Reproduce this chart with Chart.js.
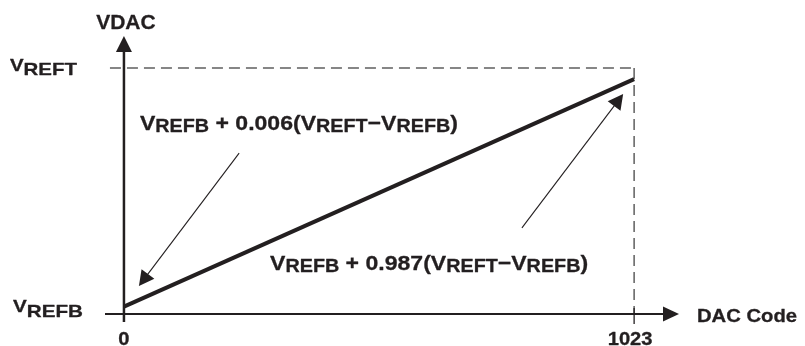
<!DOCTYPE html>
<html>
<head>
<meta charset="utf-8">
<script src="https://cdn.jsdelivr.net/npm/chart.js@4/dist/chart.umd.min.js"></script>
<style>
  html, body { margin: 0; padding: 0; background: #ffffff; }
  #wrap { width: 805px; height: 346px; }
</style>
</head>
<body>
<div id="wrap"><canvas id="c" width="805" height="346"></canvas></div>
<script>
// ---- data ----
const dacCodes = [0, 1023];                 // x: DAC code
const vdacFraction = [0.03, 0.955];         // y: fraction of (VREFT - VREFB) above VREFB
const xTickValues = [0, 1023];
const xTickLabels = ['0', '1023'];
const yTickValues = [0, 1];
const yTickLabels = [['V', 'REFB'], ['V', 'REFT']];
const xAxisTitle = 'DAC Code';
const yAxisTitle = 'VDAC';
// callout labels: [text, isSubscript]
const calloutLow = [['V',0],['REFB',1],[' + 0.006(',0],['V',0],['REFT',1],['\u2212',0],['V',0],['REFB',1],[')',0]];
const calloutHigh = [['V',0],['REFB',1],[' + 0.987(',0],['V',0],['REFT',1],['\u2212',0],['V',0],['REFB',1],[')',0]];
// callout anchors in data units: text position, arrow start, arrow tip
const calloutLowText = [32, 0.748];
const calloutLowArrow = [[231, 0.654], [30, 0.114]];
const calloutHighText = [293, 0.179];
const calloutHighArrow = [[798, 0.35], [1001, 0.894]];

const INK = '#231f20';
const FONT = '"Liberation Sans", Arial, Helvetica, sans-serif';
const TEXT_STROKE = 0.3;

function fillBold(ctx, t, x, y) {
  ctx.fillText(t, x, y);
  ctx.lineWidth = TEXT_STROKE;
  ctx.strokeStyle = INK;
  ctx.lineJoin = 'round';
  ctx.strokeText(t, x, y);
}

function drawRich(ctx, parts, x, y, opts) {
  const main = opts.main, sub = opts.sub, dy = opts.dy;
  let natural = 0;
  const widths = parts.map(p => {
    ctx.font = 'bold ' + (p[1] ? sub : main) + 'px ' + FONT;
    const w = ctx.measureText(p[0]).width;
    natural += w;
    return w;
  });
  const sx = opts.width ? opts.width / natural : 1;
  ctx.save();
  ctx.translate(x, y);
  ctx.scale(sx, 1);
  let cx = opts.align === 'center' ? -natural / 2 : (opts.align === 'right' ? -natural : 0);
  ctx.fillStyle = INK;
  ctx.textBaseline = 'alphabetic';
  ctx.textAlign = 'left';
  parts.forEach((p, i) => {
    ctx.font = 'bold ' + (p[1] ? sub : main) + 'px ' + FONT;
    fillBold(ctx, p[0], cx, p[1] ? dy : 0);
    cx += widths[i];
  });
  ctx.restore();
}

function arrowHead(ctx, fx, fy, tx, ty, len, half) {
  const a = Math.atan2(ty - fy, tx - fx);
  const bx = tx - len * Math.cos(a), by = ty - len * Math.sin(a);
  const px = -Math.sin(a) * half, py = Math.cos(a) * half;
  ctx.beginPath();
  ctx.moveTo(tx, ty);
  ctx.lineTo(bx + px, by + py);
  ctx.lineTo(bx - px, by - py);
  ctx.closePath();
  ctx.fill();
}

const diagramPlugin = {
  id: 'diagram',
  beforeDatasetsDraw(chart) {
    const ctx = chart.ctx, xs = chart.scales.x, ys = chart.scales.y;
    const x0 = xs.getPixelForValue(0), xMax = xs.getPixelForValue(xTickValues[1]);
    const yB = ys.getPixelForValue(yTickValues[0]), yT = ys.getPixelForValue(yTickValues[1]);
    ctx.save();
    ctx.strokeStyle = '#5f5f5f';
    ctx.lineWidth = 1.5;
    ctx.setLineDash([11, 6]);
    ctx.beginPath();
    ctx.moveTo(x0 - 14, yT);
    ctx.lineTo(xMax, yT);
    ctx.moveTo(xMax, yT);
    ctx.lineTo(xMax, yB);
    ctx.stroke();
    ctx.restore();
  },
  afterDatasetsDraw(chart) {
    const ctx = chart.ctx, xs = chart.scales.x, ys = chart.scales.y, ca = chart.chartArea;
    const X = v => xs.getPixelForValue(v), Y = v => ys.getPixelForValue(v);
    const x0 = X(0), y0 = Y(0);
    ctx.save();
    ctx.fillStyle = INK;
    ctx.strokeStyle = INK;
    ctx.setLineDash([]);
    // y axis with arrow
    ctx.lineWidth = 2.5;
    ctx.beginPath();
    ctx.moveTo(x0, ca.bottom);
    ctx.lineTo(x0, ca.top + 14);
    ctx.stroke();
    arrowHead(ctx, x0, ca.bottom, x0, ca.top, 16, 8);
    // x axis with arrow
    ctx.lineWidth = 2;
    ctx.beginPath();
    ctx.moveTo(ca.left, y0);
    ctx.lineTo(ca.right - 14, y0);
    ctx.stroke();
    arrowHead(ctx, ca.left, y0, ca.right, y0, 16, 7.5);
    // tick at 1023
    ctx.lineWidth = 1.3;
    ctx.beginPath();
    ctx.moveTo(X(xTickValues[1]), y0 - 6);
    ctx.lineTo(X(xTickValues[1]), ca.bottom + 2);
    ctx.stroke();

    // x tick labels
    ctx.font = 'bold 18px ' + FONT;
    ctx.textAlign = 'center';
    ctx.textBaseline = 'alphabetic';
    xTickValues.forEach((v, i) => {
      const off = i === 0 ? 0 : -4;
      ctx.save();
      ctx.translate(X(v) + off, y0 + 31);
      ctx.scale(1.12, 1);
      fillBold(ctx, xTickLabels[i], 0, 0);
      ctx.restore();
    });
    // y tick labels
    drawRich(ctx, [[yTickLabels[1][0],0],[yTickLabels[1][1],1]], x0 - 47, Y(yTickValues[1]) + 3,
      {main: 17, sub: 17, dy: 4, width: 67, align: 'right'});
    drawRich(ctx, [[yTickLabels[0][0],0],[yTickLabels[0][1],1]], x0 - 41, Y(yTickValues[0]) - 2,
      {main: 17, sub: 17, dy: 5, width: 70, align: 'right'});
    // axis titles
    ctx.font = 'bold 21px ' + FONT;
    ctx.textAlign = 'center';
    fillBold(ctx, yAxisTitle, x0 + 2, ca.top - 7);
    drawRich(ctx, [[xAxisTitle,0]], ca.right + 18, y0 + 7.5, {main: 18.5, sub: 18.5, dy: 0, width: 100, align: 'left'});

    // callouts
    drawRich(ctx, calloutLow, X(calloutLowText[0]), Y(calloutLowText[1]),
      {main: 21, sub: 18, dy: 2.5, width: 318, align: 'left'});
    drawRich(ctx, calloutHigh, X(calloutHighText[0]), Y(calloutHighText[1]),
      {main: 21, sub: 18, dy: 2.5, width: 318, align: 'left'});
    [calloutLowArrow, calloutHighArrow].forEach(a => {
      const fx = X(a[0][0]), fy = Y(a[0][1]), tx = X(a[1][0]), ty = Y(a[1][1]);
      const ang = Math.atan2(ty - fy, tx - fx);
      ctx.lineWidth = 1.1;
      ctx.strokeStyle = INK;
      ctx.beginPath();
      ctx.moveTo(fx, fy);
      ctx.lineTo(tx - 12 * Math.cos(ang), ty - 12 * Math.sin(ang));
      ctx.stroke();
      arrowHead(ctx, fx, fy, tx, ty, 15, 8);
    });
    ctx.restore();
  }
};

new Chart(document.getElementById('c'), {
  type: 'line',
  data: {
    labels: dacCodes,
    datasets: [{
      data: dacCodes.map((c, i) => ({x: c, y: vdacFraction[i]})),
      borderColor: INK,
      borderWidth: 4,
      borderCapStyle: 'butt',
      pointRadius: 0,
      tension: 0,
      fill: false
    }]
  },
  options: {
    responsive: false,
    animation: false,
    devicePixelRatio: 1,
    layout: { padding: { left: 105, right: 126, top: 36, bottom: 24 } },
    plugins: { legend: { display: false }, tooltip: { enabled: false } },
    scales: {
      x: { type: 'linear', min: -38, max: 1113, display: false },
      y: { type: 'linear', min: -0.0325, max: 1.13, display: false }
    }
  },
  plugins: [diagramPlugin]
});
</script>
</body>
</html>
